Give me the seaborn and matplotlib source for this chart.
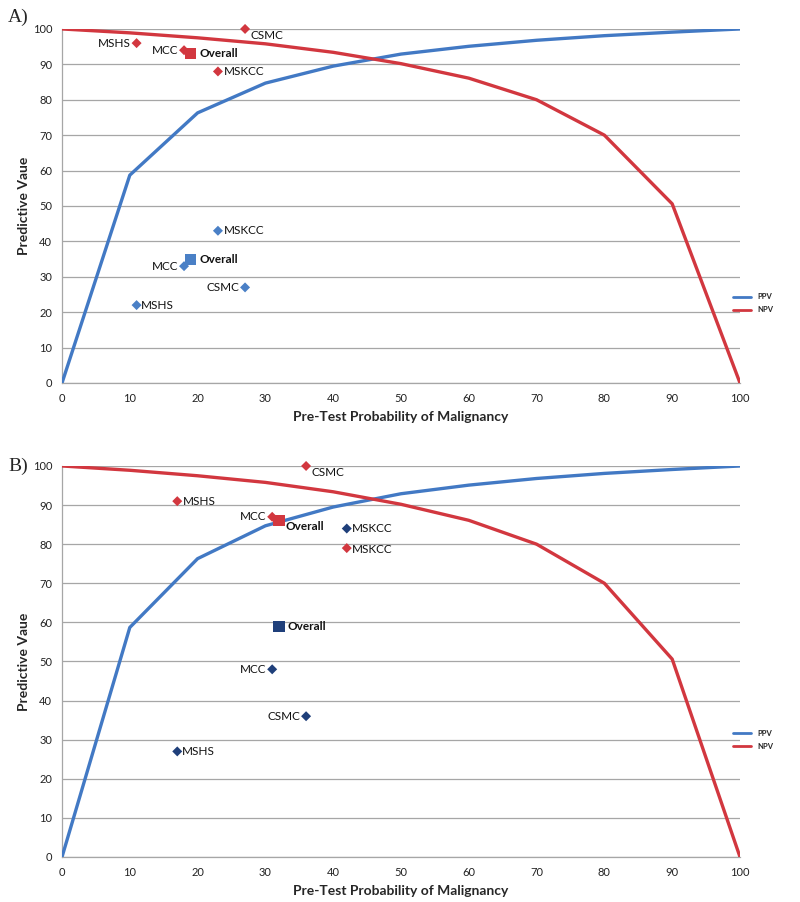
import matplotlib
matplotlib.use("Agg")
import matplotlib.pyplot as plt
import seaborn as sns
import pandas as pd

# ---- data ----
pretest = [0, 10, 20, 30, 40, 50, 60, 70, 80, 90, 100]
ppv_curve = [0, 58.7, 76.3, 84.7, 89.5, 92.9, 95.1, 96.8, 98.1, 99.1, 100]
npv_curve = [100, 98.9, 97.5, 95.8, 93.4, 90.2, 86.1, 80.0, 70.0, 50.6, 0]

sites = ["MSHS", "MCC", "Overall", "MSKCC", "CSMC"]

# Panel A
a_prev = [11, 18, 19, 23, 27]
a_npv = [96, 94, 93, 88, 100]
a_ppv = [22, 33, 35, 43, 27]

# Panel B
b_prev = [17, 31, 32, 42, 36]
b_npv = [91, 87, 86, 79, 100]
b_ppv = [27, 48, 59, 84, 36]

# ---- styling ----
sns.set_style("white")
plt.rcParams["font.family"] = ["Lato", "DejaVu Sans"]

RED = "#d2373f"
BLUE = "#4279c4"
PT_BLUE_A = "#4a80c6"
PT_BLUE_B = "#1f3f7a"

# label placement per site: (dx, dy in points, ha)
pos_a_npv = {"MSHS": (-4, 0, "right"), "MCC": (-4, 0, "right"), "Overall": (6, 0, "left"),
             "MSKCC": (4, 0, "left"), "CSMC": (4, -5, "left")}
pos_a_ppv = {"MSHS": (3, 0, "left"), "MCC": (-4, 0, "right"), "Overall": (6, 0, "left"),
             "MSKCC": (4, 0, "left"), "CSMC": (-4, 0, "right")}
pos_b_npv = {"MSHS": (4, 0, "left"), "MCC": (-4, 0, "right"), "Overall": (5, -4, "left"),
             "MSKCC": (4, -1, "left"), "CSMC": (4, -5, "left")}
pos_b_ppv = {"MSHS": (3, 0, "left"), "MCC": (-4, 0, "right"), "Overall": (6, 0, "left"),
             "MSKCC": (4, 0, "left"), "CSMC": (-4, 0, "right")}

fig = plt.figure(figsize=(8.0, 9.02), dpi=100)
axA = fig.add_axes([0.0775, 0.5754, 0.8475, 0.3925])
axB = fig.add_axes([0.0775, 0.0499, 0.8475, 0.4335])

curves = pd.DataFrame({
    "x": pretest * 2,
    "y": ppv_curve + npv_curve,
    "s": ["PPV"] * len(pretest) + ["NPV"] * len(pretest),
})


def draw_points(ax, prev, vals, color, pos):
    df = pd.DataFrame({"x": prev, "y": vals, "site": sites})
    diam = df[df.site != "Overall"]
    ov = df[df.site == "Overall"]
    sns.scatterplot(data=diam, x="x", y="y", ax=ax, marker="D", s=26,
                    color=color, edgecolor="none", zorder=4, legend=False, clip_on=False)
    sns.scatterplot(data=ov, x="x", y="y", ax=ax, marker="s", s=64,
                    color=color, edgecolor="none", zorder=4, legend=False, clip_on=False)
    for _, r in df.iterrows():
        dx, dy, ha = pos[r.site]
        ax.annotate(r.site, (r.x, r.y), xytext=(dx, dy), textcoords="offset points",
                    ha=ha, va="center", fontsize=8.5,
                    fontweight="bold" if r.site == "Overall" else "normal",
                    color="#111111", zorder=5)


def style_ax(ax, leg_y):
    sns.lineplot(data=curves, x="x", y="y", hue="s", palette={"PPV": BLUE, "NPV": RED},
                 ax=ax, linewidth=2.4, zorder=3, legend=True)
    ax.set_xlim(0, 100)
    ax.set_ylim(0, 100)
    ax.set_xticks(range(0, 101, 10))
    ax.set_yticks(range(0, 101, 10))
    ax.yaxis.grid(True, color="#a6a6a6", linewidth=0.9)
    ax.xaxis.grid(False)
    for s in ["top", "right"]:
        ax.spines[s].set_visible(False)
    for s in ["left", "bottom"]:
        ax.spines[s].set_color("#a6a6a6")
        ax.spines[s].set_linewidth(0.9)
    ax.tick_params(axis="both", length=0, labelsize=8, labelcolor="#222222", pad=7)
    ax.set_xlabel("Pre-Test Probability of Malignancy", fontsize=10, fontweight="bold",
                  labelpad=5)
    ax.set_ylabel("Predictive Vaue", fontsize=10, fontweight="bold", labelpad=2)
    leg = ax.legend(loc="center left", bbox_to_anchor=(0.985, leg_y), frameon=False,
                    fontsize=5.5, handlelength=2.4, borderaxespad=0, labelspacing=0.8)
    for t in leg.get_texts():
        t.set_fontweight("bold")
    for ln in leg.get_lines():
        ln.set_linewidth(2.0)


style_ax(axA, 0.225)
draw_points(axA, a_prev, a_npv, RED, pos_a_npv)
draw_points(axA, a_prev, a_ppv, PT_BLUE_A, pos_a_ppv)

style_ax(axB, 0.30)
draw_points(axB, b_prev, b_npv, RED, pos_b_npv)
draw_points(axB, b_prev, b_ppv, PT_BLUE_B, pos_b_ppv)

fig.text(8 / 800, 1 - 17 / 902, "A)", fontsize=14, family="Liberation Serif", va="center")
fig.text(8 / 800, 1 - 466 / 902, "B)", fontsize=14, family="Liberation Serif", va="center")

fig.savefig("out.png", dpi=100)
